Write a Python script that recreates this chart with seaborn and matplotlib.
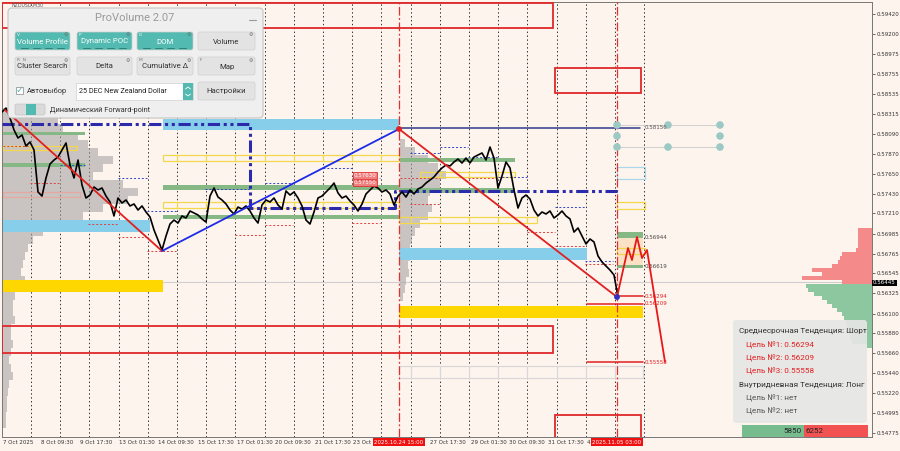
import numpy as np
import matplotlib.pyplot as plt
import matplotlib.patches as mpatches
import seaborn as sns

sns.set_theme(style="white")
plt.rcParams["font.family"] = ["DejaVu Sans"]

BG = "#FEF4EE"
UI_FONT = ["Roboto", "DejaVu Sans"]

# ---------------- data ----------------
bar_pos = np.arange(2, 619, 4)
close = [0.58333, 0.58377, 0.58267, 0.58134, 0.58045, 0.58078, 0.57956, 0.58001, 0.57912, 0.57447,
         0.57402, 0.57602, 0.57757, 0.57801, 0.57834, 0.57912, 0.57990, 0.57746, 0.57602, 0.57801,
         0.57524, 0.57380, 0.57413, 0.57502, 0.57469, 0.57491, 0.57402, 0.57336, 0.57181, 0.57380,
         0.57325, 0.57358, 0.57292, 0.57314, 0.57247, 0.57292, 0.57225, 0.57170, 0.57026, 0.56915,
         0.56804, 0.56959, 0.57092, 0.57136, 0.57103, 0.57181, 0.57159, 0.57236, 0.57214, 0.57192,
         0.57148, 0.57114, 0.57402, 0.57491, 0.57391, 0.57358, 0.57314, 0.57247, 0.57203, 0.57280,
         0.57258, 0.57292, 0.57236, 0.57159, 0.57103, 0.57303, 0.57358, 0.57336, 0.57380, 0.57303,
         0.57258, 0.57458, 0.57413, 0.57447, 0.57380, 0.57292, 0.57136, 0.57092, 0.57225, 0.57380,
         0.57402, 0.57447, 0.57491, 0.57546, 0.57436, 0.57380, 0.57402, 0.57347, 0.57303, 0.57236,
         0.57314, 0.57425, 0.57469, 0.57513, 0.57491, 0.57447, 0.57469, 0.57425, 0.57303, 0.57402,
         0.57447, 0.57391, 0.57469, 0.57425, 0.57480, 0.57502, 0.57546, 0.57580, 0.57613, 0.57668,
         0.57713, 0.57746, 0.57735, 0.57779, 0.57812, 0.57768, 0.57823, 0.57768, 0.57834, 0.57857,
         0.57879, 0.57801, 0.57945, 0.57823, 0.57491, 0.57624, 0.57779, 0.57713, 0.57469, 0.57269,
         0.57380, 0.57413, 0.57369, 0.57247, 0.57181, 0.57225, 0.57203, 0.57236, 0.57159, 0.57192,
         0.57236, 0.57181, 0.57148, 0.57003, 0.57048, 0.56959, 0.56871, 0.56926, 0.56893, 0.56738,
         0.56671, 0.56627, 0.56582, 0.56527, 0.56283]

zz_down1_x = [5, 162]
zz_down1_p = [0.58355, 0.56793]
zz_up_x = [162, 399]
zz_up_p = [0.56793, 0.58145]
zz_down2_x = [399, 617]
zz_down2_p = [0.58145, 0.56283]
fc_x = [617, 628, 632, 637, 642, 647, 665]
fc_p = [0.56283, 0.56826, 0.56693, 0.56948, 0.56715, 0.56804, 0.55563]

price_ticks = [0.59420, 0.59200, 0.58975, 0.58755, 0.58535, 0.58315, 0.58090, 0.57870, 0.57650,
               0.57430, 0.57210, 0.56985, 0.56765, 0.56545, 0.56325, 0.56100, 0.55880, 0.55660,
               0.55440, 0.55220, 0.54995, 0.54775]
last_price = 0.56445

time_pos = [3, 41, 80, 119, 158, 198, 237, 275, 315, 353, 430, 471, 509, 548, 587]
time_labels = ["7 Oct 2025", "8 Oct 09:30", "9 Oct 17:30", "13 Oct 01:30", "14 Oct 09:30",
               "15 Oct 17:30", "17 Oct 01:30", "20 Oct 09:30", "21 Oct 17:30", "23 Oct 09:30",
               "27 Oct 17:30", "29 Oct 01:30", "30 Oct 09:30", "31 Oct 17:30", "4"]
marker_pos = [399, 617]
marker_labels = ["2025.10.24 15:00", "2025.11.05 03:00"]

# zones: (start, end, low, high)
blue_zones = [(163, 399, 0.58134, 0.58256), (3, 150, 0.57003, 0.57136), (399, 587, 0.56693, 0.56826)]
gold_zones = [(3, 163, 0.56339, 0.56472), (399, 643, 0.56051, 0.56183)]
green_zones = [(3, 85, 0.58078, 0.58111), (3, 85, 0.57724, 0.57768), (163, 399, 0.57469, 0.57524),
               (163, 399, 0.57148, 0.57192), (399, 515, 0.57779, 0.57823), (399, 515, 0.57436, 0.57491),
               (617, 643, 0.56937, 0.57003), (617, 643, 0.56605, 0.56638)]
yellow_boxes = [(163, 399, 0.57790, 0.57857), (163, 399, 0.57269, 0.57336), (3, 77, 0.57912, 0.57956),
                (420, 515, 0.57613, 0.57668), (399, 537, 0.57103, 0.57170), (617, 645, 0.57258, 0.57336),
                (617, 645, 0.56760, 0.56826)]
red_boxes = [(2, 553, 0.59264, 0.59541), (555, 641, 0.58544, 0.58821),
             (2, 553, 0.55663, 0.55962), (555, 641, 0.54500, 0.54976)]
target_lines = [(617, 643, 0.56294), (587, 643, 0.56209), (587, 643, 0.55558)]
level_tags = [(0.58156, "0.58156", "#555555"), (0.56944, "0.56944", "#444444"),
              (0.56619, "0.56619", "#444444"), (0.56294, "0.56294", "#E02020"),
              (0.56209, "0.56209", "#E02020"), (0.55558, "0.55558", "#E02020")]

poc_x = [2, 250, 250, 395, 395, 620]
poc_p = [0.58200, 0.58200, 0.57269, 0.57269, 0.57458, 0.57458]

blue_dash = [(60, 85, 0.57746), (118, 147, 0.57602), (147, 177, 0.57236), (205, 250, 0.57480),
             (265, 293, 0.57546), (323, 352, 0.57713), (352, 380, 0.57602), (410, 440, 0.57879),
             (440, 468, 0.57945), (468, 498, 0.57834), (498, 527, 0.57613), (555, 585, 0.57280),
             (585, 613, 0.56682)]
red_dash = [(3, 30, 0.57956), (30, 59, 0.57546), (88, 118, 0.57092), (118, 147, 0.56948),
            (147, 177, 0.56793), (235, 265, 0.56970), (265, 293, 0.57081), (352, 380, 0.57103),
            (400, 440, 0.57602), (410, 440, 0.57314), (468, 498, 0.57602), (527, 555, 0.57003),
            (555, 585, 0.56848), (585, 613, 0.56649)]

dots_x = [617, 617, 617, 668, 668, 720, 720, 720]
dots_p = [0.58189, 0.58067, 0.57945, 0.58189, 0.57945, 0.58189, 0.58067, 0.57945]

# volume profiles (price bin -> width in bars)
vp1_levels = np.linspace(0.58333, 0.54877, 40)
vp1_width = [40, 55, 60, 75, 85, 95, 110, 100, 90, 120, 135, 125, 100, 80, 55, 40, 30, 25, 22, 20,
             18, 22, 15, 12, 10, 10, 12, 8, 8, 10, 8, 6, 8, 10, 6, 5, 4, 4, 3, 3]
vp2_levels = np.linspace(0.57990, 0.56283, 20)
vp2_width = [5, 15, 28, 38, 46, 40, 30, 28, 32, 28, 20, 15, 12, 10, 10, 8, 9, 6, 5, 3]
sell_levels = np.linspace(0.57026, 0.56450, 14)
sell_width = [14, 14, 14, 14, 14, 16, 30, 32, 34, 40, 60, 50, 70, 30]
buy_levels = np.linspace(0.56405, 0.55740, 16)
buy_width = [66, 64, 58, 50, 45, 40, 35, 30, 28, 26, 25, 24, 22, 22, 20, 5]

# ---------------- figure ----------------
fig = plt.figure(figsize=(9, 4.51), dpi=100, facecolor=BG)
ax = fig.add_axes([2 / 900, 14 / 451, 870 / 900, 435 / 451], facecolor=BG)
ax.set_xlim(2, 872)
ax.set_ylim(0.54732, 0.59552)

grid_x = [31 + 29.2 * k for k in range(22)]
for gx in grid_x:
    ax.axvline(gx, color="#333333", lw=0.7, ls=(0, (1.5, 2.5)), zorder=1)

ax.axhline(last_price, color="#CFCFCF", lw=0.8, zorder=1)


def rect(x0, x1, lo, hi, **kw):
    ax.add_patch(mpatches.Rectangle((x0, lo), x1 - x0, hi - lo, **kw))


# profiles
ax.barh(vp1_levels, vp1_width, left=3, height=0.00089, color="#9E9E9E", alpha=0.55, lw=0, zorder=2)
ax.barh(vp2_levels, vp2_width, left=400, height=0.00090, color="#9E9E9E", alpha=0.55, lw=0, zorder=2)
ax.barh(sell_levels, sell_width, left=[872 - w for w in sell_width], height=0.00045,
        color="#F48A8A", lw=0, zorder=2)
ax.barh(buy_levels, buy_width, left=[872 - w for w in buy_width], height=0.00045,
        color="#8CC7A0", lw=0, zorder=2)

for x0, x1, lo, hi in blue_zones:
    rect(x0, x1, lo, hi, fc="#87CEEB", ec="none", zorder=3)
for x0, x1, lo, hi in gold_zones:
    rect(x0, x1, lo, hi, fc="#FFD700", ec="none", zorder=3)
for x0, x1, lo, hi in green_zones:
    rect(x0, x1, lo, hi, fc="#86B886", ec="none", zorder=3)
rect(617, 643, 0.56638, 0.56937, fc="#FBE2C4", ec="none", zorder=2)
rect(617, 645, 0.57591, 0.57724, fc="none", ec="#A9D6E8", lw=0.9, zorder=3)
rect(3, 80, 0.57391, 0.57447, fc="none", ec="#E6A8A0", lw=0.9, zorder=3)
for x0, x1, lo, hi in yellow_boxes:
    rect(x0, x1, lo, hi, fc="none", ec="#F2D84A", lw=0.9, zorder=3)
    for gx in grid_x:
        if x0 + 5 < gx < x1 - 5:
            ax.plot([gx, gx], [lo, hi], color="#F2D84A", lw=0.9, zorder=3)
rect(399, 643, 0.55386, 0.55519, fc="none", ec="#D8D8D8", lw=0.9, zorder=3)
for gx in grid_x:
    if 404 < gx < 640:
        ax.plot([gx, gx], [0.55386, 0.55519], color="#D8D8D8", lw=0.9, zorder=3)

for x0, x1, lo, hi in red_boxes:
    rect(x0, x1, lo, hi, fc="none", ec="#E02828", lw=1.3, zorder=4)

for x0, x1, p in blue_dash:
    ax.plot([x0, x1], [p, p], color="#3344CC", lw=0.7, ls=(0, (2, 2)), zorder=3)
for x0, x1, p in red_dash:
    ax.plot([x0, x1], [p, p], color="#E04040", lw=0.7, ls=(0, (2, 2)), zorder=3)

for mx in marker_pos:
    ax.axvline(mx, color="#E03030", lw=0.9, ls=(0, (7, 2, 1.5, 2)), zorder=3)

ax.plot([399, 640], [0.58156, 0.58156], color="#2E3A8C", lw=1.1, zorder=4)
ax.plot(poc_x, poc_p, color="#2A2AAA", lw=2.2, ls=(0, (4, 1.2, 1, 1.2, 1, 1.2)), zorder=4)

for x0, x1, p in target_lines:
    ax.plot([x0, x1], [p, p], color="#E02020", lw=1.1, zorder=4)
for p, txt, col in level_tags:
    ax.text(645, p, txt, fontsize=4.0, color=col, va="center", ha="left", zorder=6)

# teal target dots
ax.plot([617, 720], [0.58189, 0.58189], color="#D2D2D2", lw=0.8, zorder=4)
ax.plot([617, 720], [0.57945, 0.57945], color="#D2D2D2", lw=0.8, zorder=4)
sns.scatterplot(x=dots_x, y=dots_p, color="#9CC9C3", s=30, edgecolor="none", ax=ax, zorder=5)

# price and zigzags
sns.lineplot(x=bar_pos, y=close, color="black", lw=1.2, ax=ax, zorder=6, estimator=None, sort=False)
sns.lineplot(x=zz_down1_x, y=zz_down1_p, color="#E02020", lw=1.3, ax=ax, zorder=7, estimator=None)
sns.lineplot(x=zz_up_x, y=zz_up_p, color="#1E2BE6", lw=1.3, ax=ax, zorder=7, estimator=None)
sns.lineplot(x=zz_down2_x, y=zz_down2_p, color="#E02020", lw=1.3, ax=ax, zorder=7, estimator=None)
sns.lineplot(x=fc_x, y=fc_p, color="#E81818", lw=1.3, ax=ax, zorder=7, estimator=None, sort=False)
ax.scatter([399, 617], [0.58145, 0.56283], s=10, color=["#E02020", "#3030C0"], zorder=8)

for p, txt in [(0.57630, "0.57630"), (0.57550, "0.57550")]:
    ax.text(354, p, txt, fontsize=4.0, color="white", va="center", ha="left", zorder=8,
            bbox=dict(boxstyle="square,pad=0.1", fc="#F08080", ec="#E03030", lw=0.6))

# axes styling
ax.yaxis.tick_right()
ax.set_yticks(price_ticks)
ax.set_yticklabels([f"{v:.5f}" for v in price_ticks])
ax.tick_params(axis="y", labelsize=4.0, length=2, pad=1.2, colors="#333333", width=0.5)
ax.set_xticks(time_pos)
ax.set_xticklabels(time_labels, ha="left")
ax.tick_params(axis="x", labelsize=4.0, length=3, pad=2, colors="#333333", width=0.5, direction="in")
for s in ax.spines.values():
    s.set_color("#777777")
    s.set_linewidth(0.7)

for mx, lab in zip(marker_pos, marker_labels):
    ax.text(mx, -0.0115, lab, transform=ax.get_xaxis_transform(), fontsize=4.0, color="white",
            ha="center", va="center", zorder=10, clip_on=False,
            bbox=dict(boxstyle="square,pad=0.2", fc="#F01010", ec="none"))

# ---------------- overlay (terminal widgets) ----------------
ui = fig.add_axes([0, 0, 1, 1], facecolor="none", zorder=10)
ui.set_xlim(0, 900)
ui.set_ylim(451, 0)
ui.axis("off")

ui.text(12, 5, "NZDUSD,M30", fontsize=3.4, color="#555555", va="center")
ui.text(873, 283, f"{last_price:.5f}", fontsize=4.0, color="white", va="center", ha="left",
        bbox=dict(boxstyle="square,pad=0.15", fc="black", ec="none"))

ui.add_patch(mpatches.FancyBboxPatch((8, 8), 255, 110, boxstyle="round,pad=0,rounding_size=4",
                                     fc="#EFEFEF", ec="#C4C4C4", lw=0.8))
ui.text(135, 18, "ProVolume 2.07", fontsize=8, color="#9A9A9A", ha="center", va="center",
        family=UI_FONT)
ui.plot([249, 256], [20, 20], color="#999999", lw=0.8)

TEAL = "#52BAB0"
buttons = [
    (15, 32, 55, "Volume Profile", True, "V"), (77, 32, 55, "Dynamic POC", True, "P"),
    (137, 32, 56, "DOM", True, "D"), (198, 32, 57, "Volume", False, ""),
    (15, 57, 55, "Cluster Search", False, "R  N"), (77, 57, 55, "Delta", False, ""),
    (137, 57, 56, "Cumulative \u0394", False, "M"), (198, 57, 57, "Map", False, "F"),
    (198, 82, 57, "\u041d\u0430\u0441\u0442\u0440\u043e\u0439\u043a\u0438", False, ""),
]
for bx, by, bw, lab, on, key in buttons:
    ui.add_patch(mpatches.FancyBboxPatch((bx, by), bw, 18, boxstyle="round,pad=0,rounding_size=2",
                                         fc=TEAL if on else "#E3E3E3", ec="#CFCFCF", lw=0.5))
    ui.text(bx + bw / 2, by + 9.5, lab, fontsize=5.6, color="white" if on else "#333333",
            ha="center", va="center", family=UI_FONT)
    if key:
        ui.text(bx + 2, by + 3, key, fontsize=3.2, color="#F4F4F4" if on else "#777777", va="center")
    if by < 80:
        ui.text(bx + bw - 4, by + 3, "\u2699", fontsize=3.4, color="#666666", ha="center", va="center")
    if on:
        for k in range(4):
            ui.plot([bx + 6 + k * 12, bx + 13 + k * 12], [by + 16, by + 16], color="#2E7F78", lw=0.7)

ui.add_patch(mpatches.Rectangle((16, 87), 7, 7, fc="white", ec="#888888", lw=0.5))
ui.text(19.5, 89.5, "\u2713", fontsize=7, color=TEAL, ha="center", va="center")
ui.text(27, 91, "\u0410\u0432\u0442\u043e\u0432\u044b\u0431\u043e\u0440", fontsize=5.4,
        color="#333333", va="center", family=UI_FONT)
ui.add_patch(mpatches.Rectangle((76, 83), 117, 17, fc="white", ec="#CFCFCF", lw=0.5))
ui.text(79, 91.5, "25 DEC New Zealand Dollar", fontsize=5.2, color="#222222", va="center",
        family=UI_FONT)
ui.add_patch(mpatches.Rectangle((183, 83), 10, 17, fc=TEAL, ec="none"))
ui.plot([185.5, 188, 190.5], [89, 87, 89], color="white", lw=0.6)
ui.plot([185.5, 188, 190.5], [94, 96, 94], color="white", lw=0.6)
ui.add_patch(mpatches.FancyBboxPatch((15, 104), 30, 11, boxstyle="round,pad=0,rounding_size=2",
                                     fc="#DADADA", ec="#C4C4C4", lw=0.5))
ui.add_patch(mpatches.Rectangle((26, 104), 10, 11, fc=TEAL, ec="none"))
ui.text(50, 110, "\u0414\u0438\u043d\u0430\u043c\u0438\u0447\u0435\u0441\u043a\u0438\u0439 Forward-point",
        fontsize=5.3, color="#333333", va="center", family=UI_FONT)

# info box
ui.add_patch(mpatches.FancyBboxPatch((733, 320), 134, 103, boxstyle="round,pad=0,rounding_size=3",
                                     fc="#E6E6E6", ec="none", alpha=0.93))
info = [
    (739, 331, "\u0421\u0440\u0435\u0434\u043d\u0435\u0441\u0440\u043e\u0447\u043d\u0430\u044f "
               "\u0422\u0435\u043d\u0434\u0435\u043d\u0446\u0438\u044f: \u0428\u043e\u0440\u0442", "#333333"),
    (746, 345, "\u0426\u0435\u043b\u044c \u21161: 0.56294", "#E02020"),
    (746, 358, "\u0426\u0435\u043b\u044c \u21162: 0.56209", "#E02020"),
    (746, 371, "\u0426\u0435\u043b\u044c \u21163: 0.55558", "#E02020"),
    (739, 385, "\u0412\u043d\u0443\u0442\u0440\u0438\u0434\u043d\u0435\u0432\u043d\u0430\u044f "
               "\u0422\u0435\u043d\u0434\u0435\u043d\u0446\u0438\u044f: \u041b\u043e\u043d\u0433", "#333333"),
    (746, 398, "\u0426\u0435\u043b\u044c \u21161: \u043d\u0435\u0442", "#555555"),
    (746, 411, "\u0426\u0435\u043b\u044c \u21162: \u043d\u0435\u0442", "#555555"),
]
for tx, ty, txt, col in info:
    ui.text(tx, ty, txt, fontsize=5.9, color=col, va="center", ha="left", family=UI_FONT)

ui.add_patch(mpatches.Rectangle((742, 425), 62, 12, fc="#77BC8E", ec="none"))
ui.add_patch(mpatches.Rectangle((804, 425), 64, 12, fc="#F25252", ec="none"))
ui.text(802, 431, "5850", fontsize=5.8, color="#222222", ha="right", va="center", family=UI_FONT)
ui.text(806, 431, "6252", fontsize=5.8, color="#222222", ha="left", va="center", family=UI_FONT)

fig.savefig("out.png", dpi=100, facecolor=BG)
